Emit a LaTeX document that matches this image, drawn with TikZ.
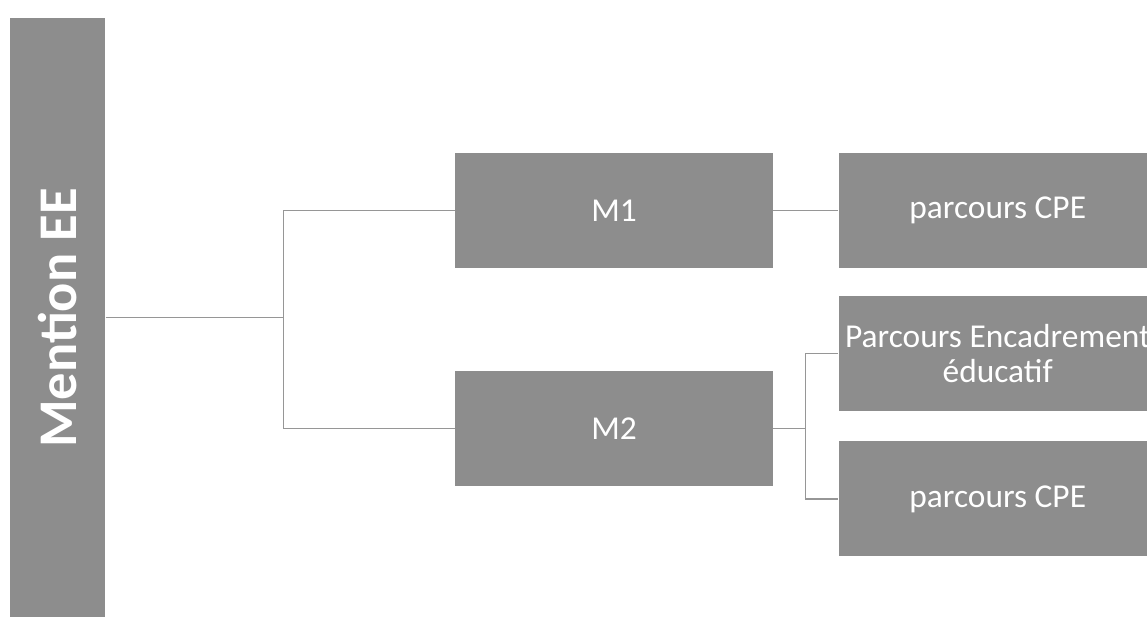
\documentclass[tikz,border=0pt]{standalone}
\usepackage{fontspec}
\setmainfont{Carlito}
\usetikzlibrary{positioning, calc}
\usepackage{xcolor}
\definecolor{boxgrey}{RGB}{141,141,141}
\definecolor{linegrey}{RGB}{150,150,150}

\begin{document}
\begin{tikzpicture}[
        node distance=0.6cm,
        mainbox/.style={rectangle, fill=boxgrey, text=white, minimum width=1.9cm, minimum height=11.98cm, inner sep=0pt, font=\fontsize{31}{36}\selectfont\bfseries},
        level/.style={rectangle, fill=boxgrey, text=white, minimum width=6.36cm, minimum height=2.3cm, inner sep=0pt, align=center, font=\fontsize{19}{20}\selectfont},
        link/.style={draw=linegrey, line width=0.7pt}
    ]
        \useasboundingbox (0,0) rectangle (22.94,-12.34);

        \node [mainbox, anchor=north west] (mention) at (0.2,-0.36) {\rotatebox{90}{Mention EE}};

        \node [level] (m1) at (12.28,-4.21) {M1};
        \node [level, below=2.04cm of m1] (m2) {M2};

        \node [level, right=1.3cm of m1] (cpe1) {parcours CPE};
        \node [level, right=1.3cm of m2, yshift=1.5cm] (enc) {Parcours Encadrement\\éducatif};
        \node [level, below=of enc] (cpe2) {parcours CPE};

        \draw [link] (mention.east) -- ++(3.56cm,0) coordinate (split1);
        \draw [link] (split1) |- (m1.west);
        \draw [link] (split1) |- (m2.west);
        \draw [link] (m1) -- (cpe1);
        \draw [link] (m2.east) -- ++(0.64cm,0) coordinate (split2);
        \draw [link] (split2) |- (enc.west);
        \draw [link] (split2) |- (cpe2.west);

    \end{tikzpicture}
\end{document}
